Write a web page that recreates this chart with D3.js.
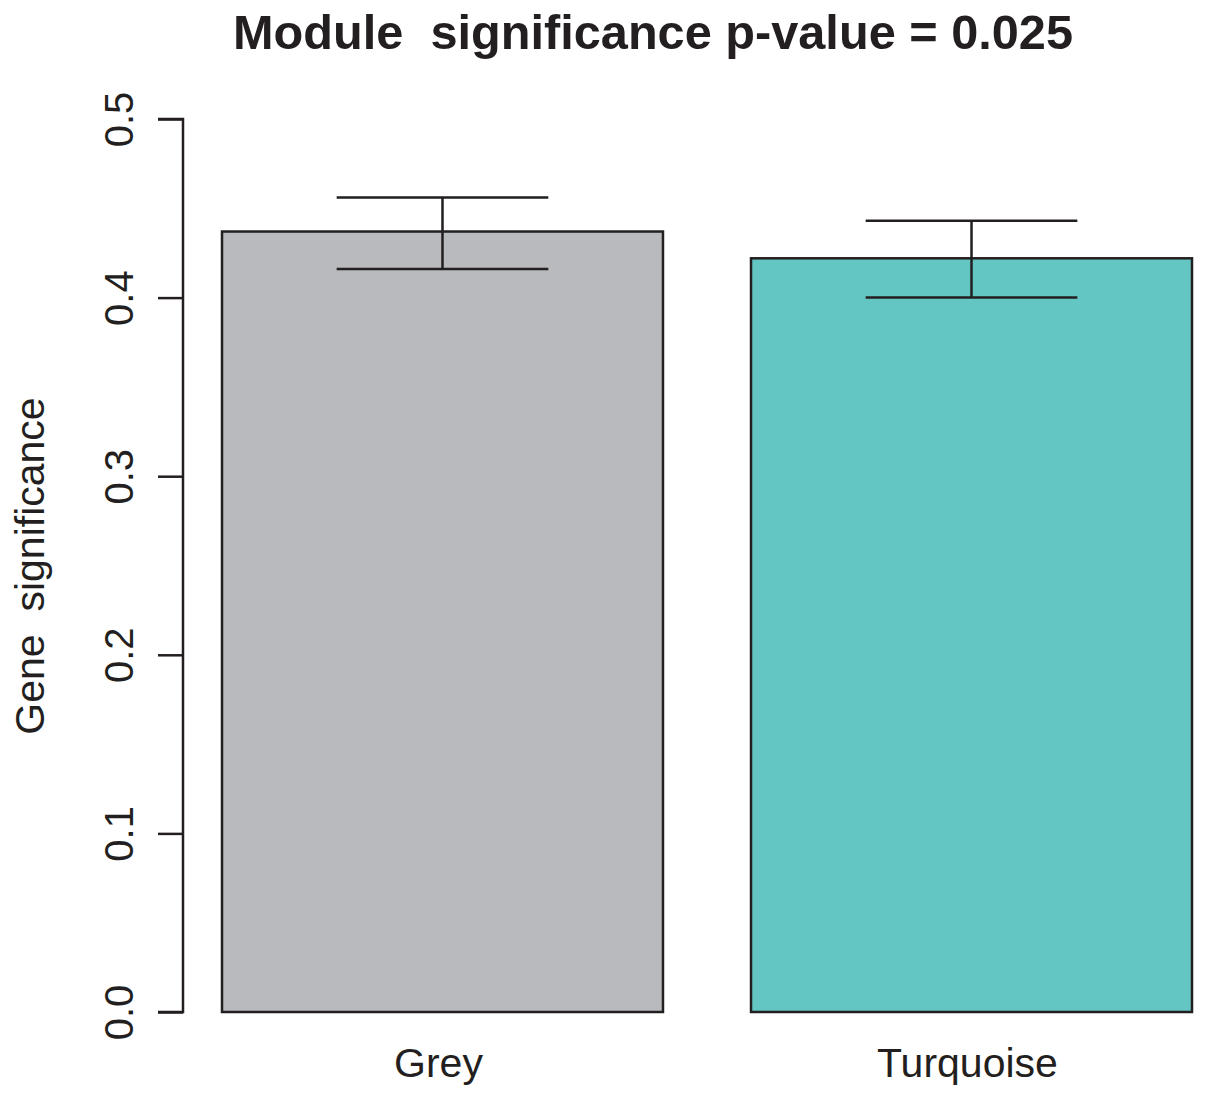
<!DOCTYPE html>
<html>
<head>
<meta charset="utf-8">
<script src="https://cdn.jsdelivr.net/npm/d3@7"></script>
<style>
  html, body { margin: 0; padding: 0; background: #fff; }
  svg { display: block; }
  text { font-family: "Liberation Sans", Arial, Helvetica, sans-serif; fill: #231f20; white-space: pre; }
</style>
</head>
<body>
<svg id="chart" width="1205" height="1101"></svg>
<script>
// ---- data ----
const categories = ["Grey", "Turquoise"];
const means = [0.437, 0.422];
const errLow = [0.416, 0.400];
const errHigh = [0.456, 0.443];
const barColors = ["#b8babd", "#64c6c3"];
const yTicks = [0.0, 0.1, 0.2, 0.3, 0.4, 0.5];
const titleText = "Module  significance p-value = 0.025";
const yLabelText = "Gene  significance";

// ---- layout ----
const svg = d3.select("#chart");
const ink = "#231f20";
const sw = 2.5;

const x = d3.scaleBand()
  .domain(categories)
  .range([222, 1192])
  .paddingInner(0.1664)
  .paddingOuter(0);

const y = d3.scaleLinear()
  .domain([0, 0.5])
  .range([1012, 119]);

// y axis
const yAxis = d3.axisLeft(y)
  .tickValues(yTicks)
  .tickFormat(d3.format(".1f"))
  .tickSize(25)
  .tickPadding(0);

const gy = svg.append("g")
  .attr("transform", "translate(183,0)")
  .call(yAxis);
gy.select(".domain").attr("stroke", ink).attr("stroke-width", sw)
  .attr("d", `M-25,${y(0.5)}H0V${y(0)}H-25`);
gy.selectAll(".tick line").attr("stroke", ink).attr("stroke-width", sw);
gy.selectAll(".tick text")
  .attr("x", null).attr("dy", null)
  .attr("text-anchor", "middle")
  .attr("transform", "translate(-50,0) rotate(-90)")
  .style("font-size", "40px")
  .style("font-family", "'Liberation Sans', Arial, sans-serif")
  .attr("fill", ink);

// bars
svg.selectAll("rect.bar")
  .data(categories)
  .join("rect")
  .attr("class", "bar")
  .attr("x", d => x(d))
  .attr("width", x.bandwidth())
  .attr("y", (d, i) => y(means[i]))
  .attr("height", (d, i) => y(0) - y(means[i]))
  .attr("fill", (d, i) => barColors[i])
  .attr("stroke", ink)
  .attr("stroke-width", sw);

// error bars
const capHalf = x.bandwidth() * 0.24;
const eb = svg.selectAll("g.err")
  .data(categories)
  .join("g")
  .attr("class", "err");
eb.append("line")
  .attr("x1", d => x(d) + x.bandwidth() / 2)
  .attr("x2", d => x(d) + x.bandwidth() / 2)
  .attr("y1", (d, i) => y(errLow[i]))
  .attr("y2", (d, i) => y(errHigh[i]));
eb.append("line")
  .attr("x1", d => x(d) + x.bandwidth() / 2 - capHalf)
  .attr("x2", d => x(d) + x.bandwidth() / 2 + capHalf)
  .attr("y1", (d, i) => y(errHigh[i]))
  .attr("y2", (d, i) => y(errHigh[i]));
eb.append("line")
  .attr("x1", d => x(d) + x.bandwidth() / 2 - capHalf)
  .attr("x2", d => x(d) + x.bandwidth() / 2 + capHalf)
  .attr("y1", (d, i) => y(errLow[i]))
  .attr("y2", (d, i) => y(errLow[i]));
eb.selectAll("line").attr("stroke", ink).attr("stroke-width", sw);

// x category labels
svg.selectAll("text.cat")
  .data(categories)
  .join("text")
  .attr("class", "cat")
  .attr("x", d => x(d) + x.bandwidth() / 2 - 4)
  .attr("y", 1077)
  .attr("text-anchor", "middle")
  .style("font-size", "41px")
  .text(d => d);

// y label
svg.append("text")
  .attr("transform", "translate(44,566) rotate(-90)")
  .attr("text-anchor", "middle")
  .style("font-size", "41px")
  .text(yLabelText);

// title
svg.append("text")
  .attr("x", 653)
  .attr("y", 49)
  .attr("text-anchor", "middle")
  .attr("textLength", 840)
  .attr("lengthAdjust", "spacingAndGlyphs")
  .style("font-size", "48px")
  .style("font-weight", "bold")
  .text(titleText);
</script>
</body>
</html>
